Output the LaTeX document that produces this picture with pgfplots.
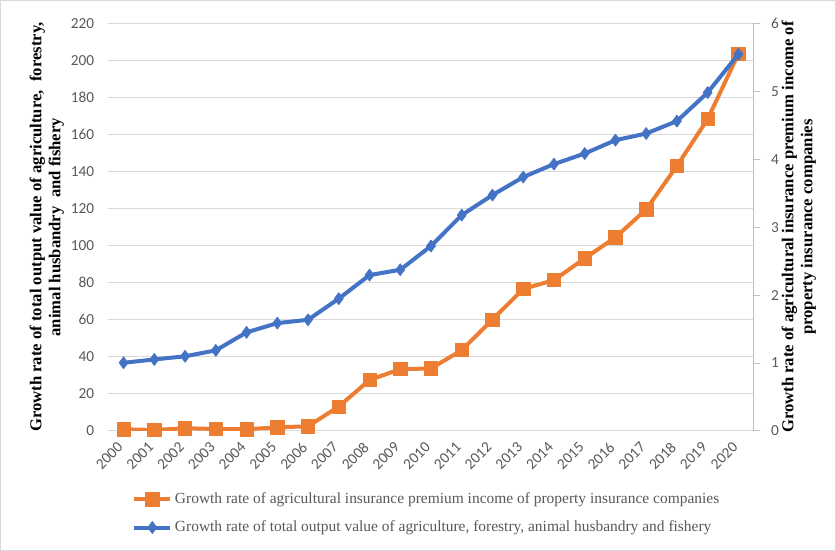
\documentclass[border=0pt]{standalone}
\usepackage{pgfplots}
\usepackage{pgfplotstable}
\pgfplotsset{compat=1.18}
\usepackage{fontspec}
\setmainfont{Liberation Serif}
\newfontfamily\carlito{Carlito}
\definecolor{cblue}{HTML}{4472C4}
\definecolor{corange}{HTML}{ED7D31}
\definecolor{cgrid}{HTML}{D9D9D9}
\definecolor{caxis}{HTML}{BFBFBF}
\definecolor{ctext}{HTML}{595959}

\pgfplotstableread{
year val
2000 36.8
2001 38.6
2002 40.3
2003 43.5
2004 53.2
2005 58.2
2006 60.0
2007 71.4
2008 84.1
2009 87.0
2010 99.8
2011 116.5
2012 127.3
2013 137.0
2014 144.0
2015 149.7
2016 156.9
2017 160.5
2018 167.2
2019 182.6
2020 203.3
}\bluedata

\pgfplotstableread{
year val
2000 0.025
2001 0.015
2002 0.04
2003 0.03
2004 0.025
2005 0.054
2006 0.069
2007 0.36
2008 0.75
2009 0.91
2010 0.92
2011 1.19
2012 1.64
2013 2.09
2014 2.22
2015 2.54
2016 2.85
2017 3.26
2018 3.90
2019 4.59
2020 5.55
}\orangedata

\pgfplotsset{
  common/.style={scale only axis, width=484.5pt, height=306pt,
    at={(81pt,89.25pt)}, anchor=south west, xmin=1999.5, xmax=2020.5,
    /pgf/number format/assume math mode=true,
    /pgf/number format/1000 sep={},
    ticklabel style={font=\carlito\fontsize{11.5}{13}\selectfont, text=ctext},
    label style={font=\bfseries\fontsize{12.5}{14.3}\selectfont, align=center}},
  blueline/.style={cblue, line width=3pt, line join=round, mark=diamond*, mark size=4.5pt, mark options={solid, line width=0.5pt}},
  orangeline/.style={corange, line width=3pt, line join=round, mark=square*, mark size=5pt, mark options={solid, line width=0.5pt}},
}

\begin{document}
\begin{tikzpicture}
\path[use as bounding box, draw=cgrid] (0,0) rectangle (627pt,412.5pt);
\begin{axis}[common, ymin=0, ymax=220, ytick={0,20,...,220},
  ymajorgrids, grid style={cgrid, line width=0.75pt},
  axis x line*=bottom, axis y line*=left,
  y axis line style={draw=none}, x axis line style={draw=cgrid, line width=0.75pt},
  major tick length=0pt,
  xtick={2000,...,2020},
  xticklabel style={rotate=45, anchor=east},
  xticklabel shift=8pt,
  yticklabel shift=7pt,
  ylabel={Growth rate of total output value of agriculture,~~forestry,\\animal husbandry~~and fishery},
  ylabel style={at={(axis description cs:-0.095,0.5)}, anchor=center},
]
\end{axis}
\begin{axis}[common, ymin=0, ymax=6, ytick={0,...,6},
  axis y line*=right, axis x line=none,
  y axis line style={draw=caxis, line width=0.75pt},
  tick style={draw=caxis, line width=0.75pt},
  tick align=outside, major tick length=5pt,
  yticklabel shift=4.5pt,
  ylabel={Growth rate of agricultural insurance premium income of\\property insurance companies},
  ylabel style={at={(axis description cs:1.0697,0.5)}, anchor=center},
  legend style={at={(axis description cs:0.494,-0.138)}, anchor=north, draw=none,
    font=\fontsize{11.6}{13.5}\selectfont, text=ctext, cells={anchor=west, inner xsep=1.5pt},
    row sep=7.5pt},
  legend image code/.code={\draw[mark repeat=2,mark phase=2,#1] plot coordinates {(0pt,0pt) (13.5pt,0pt) (27pt,0pt)};},
]
\addplot[orangeline] table[x=year, y=val] {\orangedata};
\addlegendentry{Growth rate of agricultural insurance premium income of property insurance companies}
\addlegendimage{blueline}
\addlegendentry{Growth rate of total output value of agriculture, forestry, animal husbandry and fishery}
\end{axis}
\begin{axis}[common, ymin=0, ymax=220, hide axis]
\addplot[blueline] table[x=year, y=val] {\bluedata};
\end{axis}
\end{tikzpicture}
\end{document}
